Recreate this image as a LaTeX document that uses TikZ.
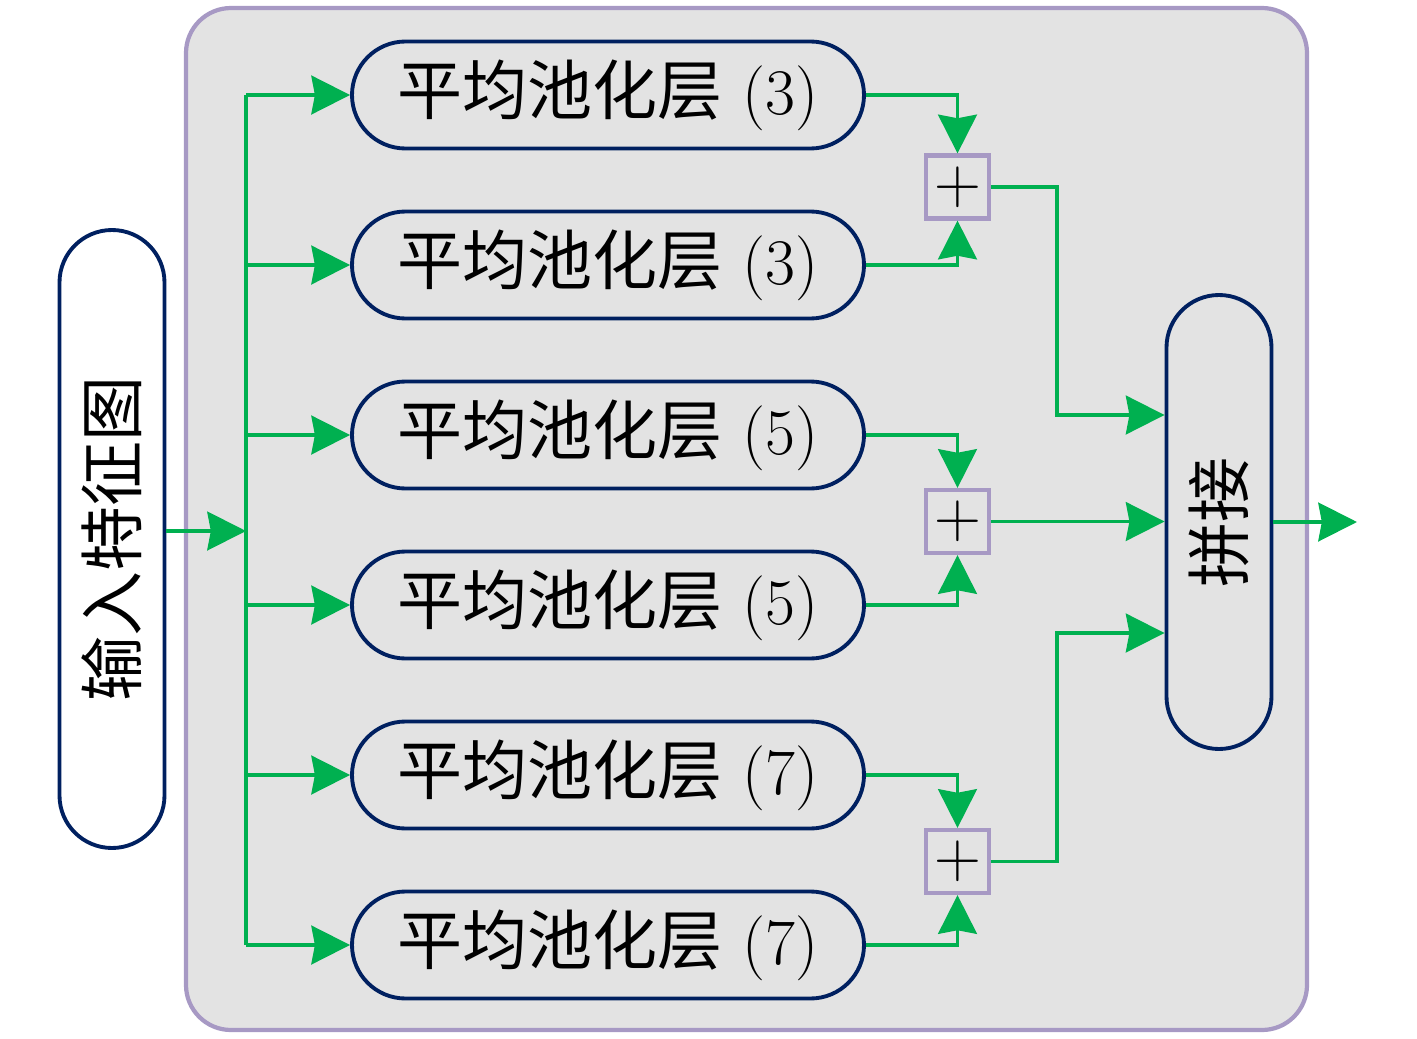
\documentclass[tikz,border=0pt]{standalone}
\usepackage{fontspec}
\newfontfamily\cjk{Noto Sans CJK SC}
\usetikzlibrary{arrows.meta}
\definecolor{navy}{RGB}{0,32,96}
\definecolor{flow}{RGB}{0,176,80}
\definecolor{lilac}{RGB}{167,153,196}
\definecolor{panel}{RGB}{227,227,227}

\begin{document}
\begin{tikzpicture}[node distance=1.7cm, font=\fontsize{18.5}{22}\selectfont,
                    pool node/.style={draw=navy,line width=1.1pt,rounded corners=0.535cm,
                                      minimum width=5.12cm,minimum height=1.07cm,inner sep=0pt},
                    tall node/.style={draw=navy,line width=1.1pt,rounded corners=0.525cm,
                                      minimum width=1.05cm,inner sep=0pt},
                    sum node/.style={draw=lilac,line width=1.2pt,minimum size=0.63cm,inner sep=0pt},
                    flowline/.style={color=flow,line width=1.1pt},
                    arr/.style={flowline,-{Stealth[length=11pt,width=11pt,inset=1pt]}}]

  \useasboundingbox (0,0) rectangle (14.17,-10.39);
  \draw[draw=lilac,fill=panel,line width=1.2pt,rounded corners=0.45cm]
    (1.86,-0.08) rectangle (13.07,-10.30);

  \node[tall node,fill=white,minimum height=6.18cm] (in) at (1.12,-5.39) {\rotatebox{90}{\cjk 输入特征图}};

  \node[pool node] (p1) at (6.08,-0.95) {{\cjk 平均池化层} (3)};
    \node[pool node] (p2) [below of=p1] {{\cjk 平均池化层} (3)};
      \node[pool node] (p3) [below of=p2] {{\cjk 平均池化层} (5)};
        \node[pool node] (p4) [below of=p3] {{\cjk 平均池化层} (5)};
          \node[pool node] (p5) [below of=p4] {{\cjk 平均池化层} (7)};
            \node[pool node] (p6) [below of=p5] {{\cjk 平均池化层} (7)};

  \node[sum node] (s1) at (9.575,-1.87) {+};
  \node[sum node] (s2) at (9.575,-5.215) {+};
  \node[sum node] (s3) at (9.575,-8.615) {+};

  \node[tall node,minimum height=4.54cm] (cat) at (12.19,-5.22) {\rotatebox{90}{\cjk 拼接}};

  \coordinate (trunk) at (2.46,-5.31);
  \coordinate (out) at (13.57,-5.22);

  % fan out
  \draw[arr] (in.east |- trunk) -- (trunk);
  \draw[flowline] (p1.west -| trunk) -- (p6.west -| trunk);
\path[arr]
    (p1.west -| trunk) edge (p1.west)
    (p2.west -| trunk) edge (p2.west)
    (p3.west -| trunk) edge (p3.west)
    (p4.west -| trunk) edge (p4.west)
    (p5.west -| trunk) edge (p5.west)
    (p6.west -| trunk) edge (p6.west);

  % sums
  \draw[arr] (p1.east) -| (s1.north);
  \draw[arr] (p2.east) -| (s1.south);
  \draw[arr] (p3.east) -| (s2.north);
  \draw[arr] (p4.east) -| (s2.south);
  \draw[arr] (p5.east) -| (s3.north);
  \draw[arr] (p6.east) -| (s3.south);

  % concat
  \draw[arr] (s1.east) -- ++(0.66,0) |- ([yshift=1.07cm]cat.west);
  \draw[arr] (s2.east) -- (s2.east -| cat.west);
  \draw[arr] (s3.east) -- ++(0.66,0) |- ([yshift=-1.11cm]cat.west);
  \draw[arr] (cat.east) -- (out);

\end{tikzpicture}
\end{document}
